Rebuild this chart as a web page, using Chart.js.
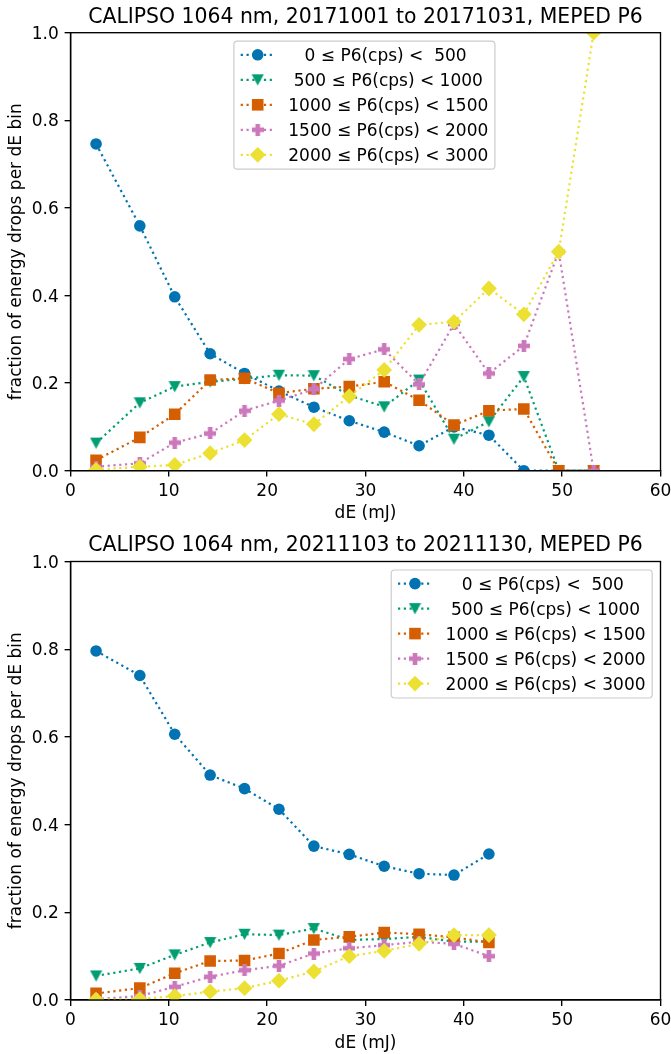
<!DOCTYPE html>
<html>
<head>
<meta charset="utf-8">
<script src="https://cdn.jsdelivr.net/npm/chart.js@4.4.1/dist/chart.umd.min.js"></script>
<style>
html,body{margin:0;padding:0;background:#fff;width:671px;height:1054px;overflow:hidden;}
canvas{display:block;position:absolute;left:0;}
</style>
</head>
<body>
<canvas id="c1" width="671" height="527" style="top:0px"></canvas>
<canvas id="c2" width="671" height="527" style="top:527px"></canvas>
<script>
// ---------------- data ----------------
const xBins = [2.6, 7.05, 10.6, 14.2, 17.7, 21.2, 24.75, 28.35, 31.9, 35.45, 39.0, 42.55, 46.1, 49.65, 53.2];
const seriesLabels = ['   0 \u2264 P6(cps) <  500', ' 500 \u2264 P6(cps) < 1000', '1000 \u2264 P6(cps) < 1500', '1500 \u2264 P6(cps) < 2000', '2000 \u2264 P6(cps) < 3000'];
const xTicks = [0, 10, 20, 30, 40, 50, 60];
const xTickLabels = ['0', '10', '20', '30', '40', '50', '60'];
const yTicks = [0, 0.2, 0.4, 0.6, 0.8, 1.0];
const yTickLabels = ['0.0', '0.2', '0.4', '0.6', '0.8', '1.0'];
const xAxisTitle = 'dE (mJ)';
const yAxisTitle = 'fraction of energy drops per dE bin';
const title1 = 'CALIPSO 1064 nm, 20171001 to 20171031, MEPED P6';
const title2 = 'CALIPSO 1064 nm, 20211103 to 20211130, MEPED P6';

// panel 1 (October 2017)
const p1_0 = [0.746, 0.559, 0.397, 0.267, 0.222, 0.182, 0.145, 0.114, 0.088, 0.057, 0.100, 0.081, 0.0, 0.0, 0.0];
const p1_1 = [0.063, 0.155, 0.192, 0.203, 0.210, 0.218, 0.217, 0.172, 0.146, 0.207, 0.072, 0.112, 0.215, 0.0, 0.0];
const p1_2 = [0.024, 0.076, 0.129, 0.207, 0.211, 0.177, 0.187, 0.192, 0.203, 0.161, 0.104, 0.137, 0.141, 0.0, 0.0];
const p1_3 = [0.009, 0.017, 0.064, 0.085, 0.137, 0.160, 0.186, 0.255, 0.277, 0.197, 0.335, 0.222, 0.285, 0.500, 0.0];
const p1_4 = [0.002, 0.009, 0.013, 0.040, 0.070, 0.129, 0.106, 0.170, 0.230, 0.333, 0.340, 0.416, 0.357, 0.500, 1.0];

// panel 2 (November 2021)
const p2_0 = [0.796, 0.740, 0.606, 0.513, 0.482, 0.435, 0.351, 0.332, 0.305, 0.288, 0.285, 0.333];
const p2_1 = [0.055, 0.072, 0.103, 0.131, 0.150, 0.148, 0.163, 0.137, 0.139, 0.144, 0.133, 0.133];
const p2_2 = [0.015, 0.027, 0.061, 0.089, 0.090, 0.106, 0.137, 0.144, 0.154, 0.150, 0.143, 0.131];
const p2_3 = [0.002, 0.009, 0.030, 0.053, 0.068, 0.078, 0.106, 0.118, 0.125, 0.133, 0.128, 0.100];
const p2_4 = [0.001, 0.002, 0.009, 0.019, 0.027, 0.044, 0.065, 0.100, 0.112, 0.128, 0.148, 0.148];

const colors = ['#0173b2', '#029e73', '#d55e00', '#cc78bc', '#ece133'];

// ---------------- styling ----------------
const FONT = '"DejaVu Sans", sans-serif';
const TICK_FS = 17, TITLE_FS = 20.4, LABEL_FS = 17, LEG_FS = 17;
const LINE_W = 2.2, DASH = [2.2, 3.6];
const SPINE_W = 1.36, TICK_LEN = 5.9;

function triImg(color) {
  const c = document.createElement('canvas'); c.width = 13; c.height = 13;
  const g = c.getContext('2d'); g.fillStyle = color;
  g.beginPath(); g.moveTo(0.4, 0.9); g.lineTo(12.6, 0.9); g.lineTo(6.5, 12.3); g.closePath(); g.fill();
  return c;
}
function plusImg(color) {
  const c = document.createElement('canvas'); c.width = 12; c.height = 12;
  const g = c.getContext('2d'); g.fillStyle = color;
  g.fillRect(3.7, 0, 4.6, 12); g.fillRect(0, 3.7, 12, 4.6);
  return c;
}
const markers = [
  {style: 'circle', r: 5.8},
  {style: triImg(colors[1]), r: 6},
  {style: 'rect', r: 8.2},
  {style: plusImg(colors[3]), r: 6},
  {style: 'rectRot', r: 7.9}
];

function drawMarker(ctx, m, color, x, y) {
  ctx.save();
  ctx.fillStyle = color;
  if (typeof m.style !== 'string') {
    ctx.drawImage(m.style, x - m.style.width / 2, y - m.style.height / 2);
  } else {
    ctx.beginPath();
    if (m.style === 'circle') ctx.arc(x, y, m.r, 0, Math.PI * 2);
    else if (m.style === 'rect') { const s = m.r * Math.SQRT1_2; ctx.rect(x - s, y - s, 2 * s, 2 * s); }
    else if (m.style === 'rectRot') { ctx.moveTo(x, y - m.r); ctx.lineTo(x + m.r, y); ctx.lineTo(x, y + m.r); ctx.lineTo(x - m.r, y); ctx.closePath(); }
    ctx.fill();
  }
  ctx.restore();
}

function makeDatasets(arrs) {
  return arrs.map((vals, i) => ({
    label: seriesLabels[i],
    data: vals.map((v, j) => ({x: xBins[j], y: v})),
    borderColor: colors[i],
    backgroundColor: colors[i],
    borderWidth: LINE_W,
    borderDash: DASH,
    borderCapStyle: 'butt',
    tension: 0,
    fill: false,
    pointStyle: markers[i].style,
    pointRadius: markers[i].r,
    pointBorderWidth: 0,
    pointHoverRadius: markers[i].r,
    order: 5 - i,
    clip: 0
  }));
}

function decoPlugin(cfg) {
  return {
    id: 'deco',
    afterDraw(chart) {
      const ctx = chart.ctx, a = chart.chartArea;
      const xs = chart.scales.x, ys = chart.scales.y;
      // spines
      ctx.save();
      ctx.strokeStyle = '#000'; ctx.lineWidth = SPINE_W;
      ctx.strokeRect(a.left, a.top, a.right - a.left, a.bottom - a.top);
      ctx.restore();
      // texts
      ctx.save();
      ctx.fillStyle = '#000';
      ctx.textBaseline = 'alphabetic';
      ctx.font = TICK_FS + 'px ' + FONT;
      ctx.textAlign = 'center';
      xTicks.forEach((v, i) => ctx.fillText(xTickLabels[i], xs.getPixelForValue(v), a.bottom + 25));
      ctx.textAlign = 'right';
      yTicks.forEach((v, i) => ctx.fillText(yTickLabels[i], a.left - 2 * TICK_LEN, ys.getPixelForValue(v) + 6));
      ctx.textAlign = 'center';
      ctx.font = TITLE_FS + 'px ' + FONT;
      ctx.fillText(cfg.title, (a.left + a.right) / 2, a.top - 10.2);
      ctx.font = LABEL_FS + 'px ' + FONT;
      ctx.fillText(xAxisTitle, (a.left + a.right) / 2, a.bottom + 47.5);
      ctx.save();
      ctx.translate(21, (a.top + a.bottom) / 2);
      ctx.rotate(-Math.PI / 2);
      ctx.fillText(yAxisTitle, 0, 0);
      ctx.restore();
      ctx.restore();
      // legend
      const L = cfg.legend;
      ctx.save();
      const r = 3.4, x0 = L.x, y0 = L.y, w = L.w, h = L.h;
      ctx.beginPath();
      ctx.moveTo(x0 + r, y0); ctx.lineTo(x0 + w - r, y0); ctx.arcTo(x0 + w, y0, x0 + w, y0 + r, r);
      ctx.lineTo(x0 + w, y0 + h - r); ctx.arcTo(x0 + w, y0 + h, x0 + w - r, y0 + h, r);
      ctx.lineTo(x0 + r, y0 + h); ctx.arcTo(x0, y0 + h, x0, y0 + h - r, r);
      ctx.lineTo(x0, y0 + r); ctx.arcTo(x0, y0, x0 + r, y0, r); ctx.closePath();
      ctx.fillStyle = 'rgba(255,255,255,0.8)'; ctx.fill();
      ctx.strokeStyle = '#cccccc'; ctx.lineWidth = 1.2; ctx.stroke();
      ctx.font = LEG_FS + 'px ' + FONT;
      ctx.textAlign = 'left'; ctx.textBaseline = 'alphabetic';
      chart.data.datasets.forEach((ds, i) => {
        const ry = y0 + 13.6 + 25 * i;
        const hx = x0 + 6.8;
        ctx.save();
        ctx.strokeStyle = ds.borderColor; ctx.lineWidth = LINE_W; ctx.setLineDash(DASH); ctx.lineCap = 'butt';
        ctx.beginPath(); ctx.moveTo(hx, ry); ctx.lineTo(hx + 34, ry); ctx.stroke();
        ctx.restore();
        drawMarker(ctx, markers[i], ds.borderColor, hx + 17, ry);
        ctx.fillStyle = '#000';
        ctx.fillText(ds.label, hx + 34 + 13.6, ry + 6);
      });
      ctx.restore();
    }
  };
}

function makeChart(id, arrs, cfg) {
  const H = 527;
  return new Chart(document.getElementById(id), {
    type: 'line',
    data: {datasets: makeDatasets(arrs)},
    plugins: [decoPlugin(cfg)],
    options: {
      responsive: false,
      animation: false,
      devicePixelRatio: 1,
      layout: {padding: {left: 0, right: 671 - cfg.right, top: cfg.top, bottom: 0}},
      plugins: {legend: {display: false}, tooltip: {enabled: false}, title: {display: false}},
      scales: {
        x: {
          type: 'linear', min: 0, max: 60,
          afterBuildTicks(s) { s.ticks = xTicks.map(v => ({value: v})); },
          afterFit(s) { s.height = H - cfg.bottom; },
          ticks: {display: false},
          grid: {display: true, drawOnChartArea: false, drawTicks: true, tickLength: TICK_LEN, color: '#000', tickColor: '#000', tickWidth: SPINE_W, lineWidth: SPINE_W},
          border: {display: true, color: '#000', width: SPINE_W}
        },
        y: {
          type: 'linear', min: 0, max: 1,
          afterBuildTicks(s) { s.ticks = yTicks.map(v => ({value: v})); },
          afterFit(s) { s.width = cfg.left; },
          ticks: {display: false},
          grid: {display: true, drawOnChartArea: false, drawTicks: true, tickLength: TICK_LEN, color: '#000', tickColor: '#000', tickWidth: SPINE_W, lineWidth: SPINE_W},
          border: {display: true, color: '#000', width: SPINE_W}
        }
      }
    }
  });
}

makeChart('c1', [p1_0, p1_1, p1_2, p1_3, p1_4], {
  title: title1, left: 70.5, right: 660.5, top: 32.7, bottom: 470.7,
  legend: {x: 233.9, y: 41.2, w: 261, h: 128}
});
makeChart('c2', [p2_0, p2_1, p2_2, p2_3, p2_4], {
  title: title2, left: 70.5, right: 660.5, top: 34.5, bottom: 473,
  legend: {x: 391.2, y: 43, w: 261, h: 128}
});
</script>
</body>
</html>
